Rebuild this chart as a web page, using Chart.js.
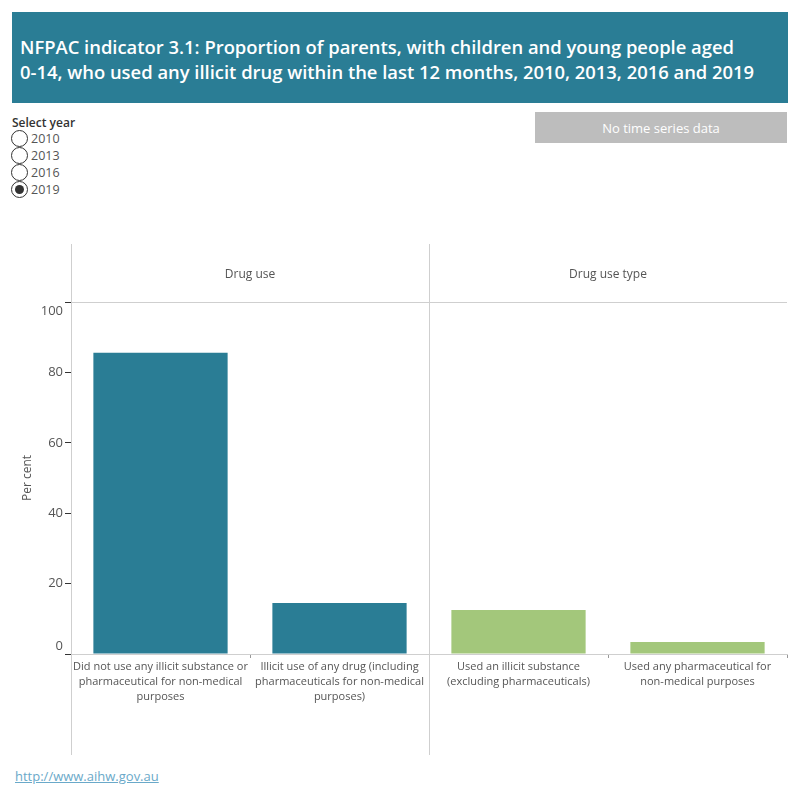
<!DOCTYPE html>
<html><head><meta charset="utf-8">
<script src="https://cdn.jsdelivr.net/npm/chart.js@4"></script>
<style>
html,body{margin:0;padding:0;background:#fff;width:800px;height:800px;overflow:hidden;font-family:"Open Sans",sans-serif;}
#title{position:absolute;left:12px;top:12px;width:776px;height:91px;background:#2A7D95;color:#fff;box-sizing:border-box;padding:22px 0 0 8px;font-size:18.4px;font-weight:600;line-height:25px;white-space:nowrap;}
#sel{position:absolute;left:12px;top:114px;font-size:12px;color:#333;font-weight:600;}
.r{position:absolute;left:-1px;height:17px;display:flex;align-items:center;color:#555;font-size:12.5px;font-weight:400;white-space:nowrap;}
.c{width:17px;height:17px;border:1px solid #333;border-radius:50%;box-sizing:border-box;margin-right:3px;position:relative;}
.c.on::after{content:"";position:absolute;left:3px;top:3px;width:9px;height:9px;border-radius:50%;background:#333;}
#btn{position:absolute;left:535px;top:112px;width:252px;height:31px;background:#BDBDBD;color:#fff;font-size:13px;display:flex;align-items:center;justify-content:center;}
#link{position:absolute;left:15px;top:767px;font-size:13px;color:#6AA9C9;text-decoration:underline;}
canvas{position:absolute;left:0;top:0;}
</style></head><body>
<div id="title">NFPAC indicator 3.1: Proportion of parents, with children and young people aged<br>0-14, who used any illicit drug within the last 12 months, 2010, 2013, 2016 and 2019</div>
<div id="sel"><div style="margin-bottom:2px">Select year</div></div>
<div id="btn">No time series data</div>
<div id="link">http://www.aihw.gov.au</div>
<canvas id="c" width="800" height="800"></canvas>
<script>
const years = ['2010','2013','2016','2019'];
const selectedYear = '2019';
const groups = ['Drug use','Drug use','Drug use type','Drug use type'];
const categories = [
  ['Did not use any illicit substance or','pharmaceutical for non-medical','purposes'],
  ['Illicit use of any drug (including','pharmaceuticals for non-medical','purposes)'],
  ['Used an illicit substance','(excluding pharmaceuticals)'],
  ['Used any pharmaceutical for','non-medical purposes']
];
const values = [85.6, 14.5, 12.5, 3.4];
const yTicks = [0,20,40,60,80,100];
const groupColors = {'Drug use':'#2A7D95','Drug use type':'#A3C77B'};

const sel = document.getElementById('sel');
years.forEach((y,i)=>{
  const d=document.createElement('div');d.className='r';d.style.top=(16+i*17)+'px';
  d.innerHTML='<span class="c'+(y===selectedYear?' on':'')+'"></span>'+y;
  sel.appendChild(d);
});

const TOP=244, BOT=755;
const panelPlugin={
  id:'panels',
  afterDraw(chart){
    const ctx=chart.ctx, a=chart.chartArea, xs=chart.scales.x, ys=chart.scales.y;
    ctx.save();
    ctx.strokeStyle='#cfcfcf';ctx.lineWidth=1;
    const bounds=[a.left];
    for(let i=1;i<groups.length;i++){ if(groups[i]!==groups[i-1]) bounds.push((xs.getPixelForValue(i-1)+xs.getPixelForValue(i))/2); }
    bounds.forEach(x=>{ctx.beginPath();ctx.moveTo(Math.round(x)+0.5,TOP);ctx.lineTo(Math.round(x)+0.5,BOT);ctx.stroke();});
    ctx.beginPath();ctx.moveTo(a.left,Math.round(a.top)+0.5);ctx.lineTo(a.right,Math.round(a.top)+0.5);ctx.stroke();
    // group headers
    ctx.fillStyle='#555';ctx.font='12px "Open Sans", sans-serif';ctx.textAlign='center';ctx.textBaseline='middle';
    let start=0;
    for(let i=1;i<=groups.length;i++){
      if(i===groups.length||groups[i]!==groups[start]){
        const x=(xs.getPixelForValue(start)+xs.getPixelForValue(i-1))/2;
        ctx.fillText(groups[start],x,(TOP+a.top)/2+2);
        start=i;
      }
    }
    // y tick labels, end labels nudged inside the axis range
    ctx.font='13px "Open Sans", sans-serif';ctx.textAlign='right';ctx.fillStyle='#555';
    yTicks.forEach(v=>{
      let y=ys.getPixelForValue(v);
      if(v===ys.max) y+=9; else if(v===ys.min) y-=8;
      ctx.fillText(String(v),a.left-8,y);
    });
    ctx.restore();
  }
};

new Chart(document.getElementById('c'),{
  type:'bar',
  data:{labels:categories,datasets:[{data:values,backgroundColor:groups.map(g=>groupColors[g]),categoryPercentage:1,barPercentage:0.75}]},
  options:{
    responsive:false,animation:false,
    layout:{padding:{left:0,right:13,top:302,bottom:0}},
    plugins:{legend:{display:false},tooltip:{enabled:false}},
    scales:{
      x:{
        afterFit(s){s.height=146;},
        border:{color:'#cfcfcf'},
        grid:{drawOnChartArea:false,tickLength:4,color:'#999',offset:true},
        ticks:{color:'#555',font:{family:'"Open Sans", sans-serif',size:11,lineHeight:1.36},padding:1,maxRotation:0,autoSkip:false}
      },
      y:{
        min:0,max:100,
        afterFit(s){s.width=71;},
        afterBuildTicks(s){s.ticks=yTicks.map(v=>({value:v}));},
        border:{color:'#cfcfcf'},
        grid:{drawOnChartArea:false,tickLength:6,color:'#333'},
        ticks:{display:false},
        title:{display:true,text:'Per cent',color:'#555',font:{family:'"Open Sans", sans-serif',size:12},padding:{top:20,bottom:0}}
      }
    }
  },
  plugins:[panelPlugin]
});
</script>
</body></html>
